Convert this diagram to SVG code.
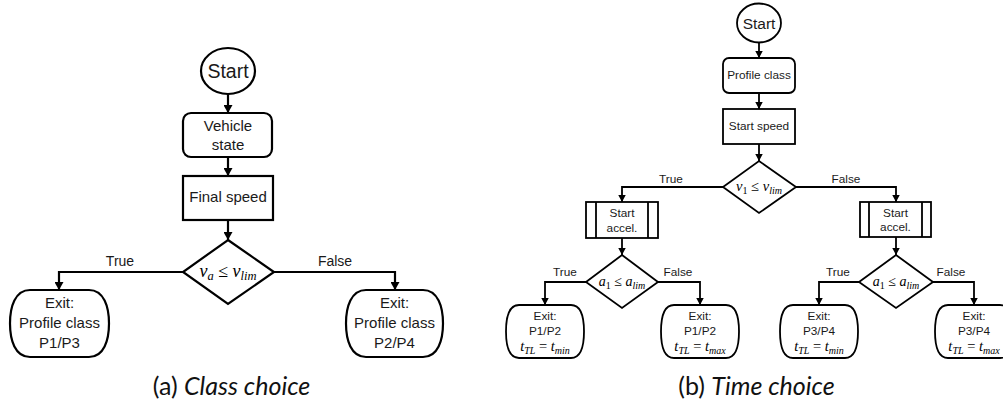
<svg xmlns="http://www.w3.org/2000/svg" width="1003" height="408" viewBox="0 0 1003 408">
<style>
.a{fill:#fff;stroke:#000;stroke-width:2.2}
.b{fill:#fff;stroke:#000;stroke-width:1.8}
.ca{fill:none;stroke:#000;stroke-width:2.2}
.cb{fill:none;stroke:#000;stroke-width:1.8}
.t{font-family:"Liberation Sans",Arial,sans-serif;fill:#1a1a1a;text-anchor:middle}
.ta{font-size:15px}
.tb{font-size:11.8px}
.m{font-family:"Liberation Serif","Times New Roman",serif;font-style:italic;fill:#000;text-anchor:middle}
.up{font-style:normal}
.cap{font-family:Lato,"DejaVu Sans",sans-serif;font-size:25px;fill:#111;text-anchor:middle}
</style>
<defs>
<marker id="ha" markerUnits="userSpaceOnUse" markerWidth="9" markerHeight="9" refX="8" refY="4.5" orient="auto"><path d="M0,0 L8,4.5 L0,9 z" fill="#000"/></marker>
<marker id="hb" markerUnits="userSpaceOnUse" markerWidth="8" markerHeight="8" refX="7" refY="3.75" orient="auto"><path d="M0,0 L7,3.75 L0,7.5 z" fill="#000"/></marker>
</defs>

<g id="connectors">
<path class="ca" d="M228,94 V113" marker-end="url(#ha)"/>
<path class="ca" d="M228,157 V176" marker-end="url(#ha)"/>
<path class="ca" d="M228,220 V240" marker-end="url(#ha)"/>
<path class="ca" d="M183,272 H59 V290" marker-end="url(#ha)"/>
<path class="ca" d="M274,272 H395 V290" marker-end="url(#ha)"/>
<path class="cb" d="M759,43 V58" marker-end="url(#hb)"/>
<path class="cb" d="M759,93 V109" marker-end="url(#hb)"/>
<path class="cb" d="M759,144 V161" marker-end="url(#hb)"/>
<path class="cb" d="M723,187 H622 V202" marker-end="url(#hb)"/>
<path class="cb" d="M796,187 H896 V202" marker-end="url(#hb)"/>
<path class="cb" d="M622,238 V255" marker-end="url(#hb)"/>
<path class="cb" d="M896,237 V255" marker-end="url(#hb)"/>
<path class="cb" d="M586,282 H545 V305" marker-end="url(#hb)"/>
<path class="cb" d="M658,282 H700 V305" marker-end="url(#hb)"/>
<path class="cb" d="M859,282 H819 V305" marker-end="url(#hb)"/>
<path class="cb" d="M933,282 H974 V305" marker-end="url(#hb)"/>
<text class="t" font-size="14" x="120" y="266">True</text>
<text class="t" font-size="14" x="335" y="266">False</text>
<text class="t tb" x="671" y="183">True</text>
<text class="t tb" x="846" y="183">False</text>
<text class="t tb" x="565" y="276">True</text>
<text class="t tb" x="678" y="276">False</text>
<text class="t tb" x="838" y="276">True</text>
<text class="t tb" x="951" y="276">False</text>
</g>

<g id="a-start"><ellipse class="a" cx="228" cy="71" rx="27" ry="23"/><text class="t" font-size="19.5" x="228" y="78">Start</text></g>
<g id="a-vehicle"><rect class="a" x="183" y="113" width="89" height="44" rx="8"/><text class="t ta" x="228" y="131">Vehicle</text><text class="t ta" x="228" y="150">state</text></g>
<g id="a-final"><rect class="a" x="183" y="176" width="90" height="44"/><text class="t ta" x="228" y="202">Final speed</text></g>
<g id="a-decision"><polygon class="a" points="228,240 274,272 228,304 183,272"/><text class="m" font-size="18" x="228" y="277">v<tspan font-size="12.5" dy="3">a</tspan><tspan dy="-3" class="up"> ≤ </tspan>v<tspan font-size="12.5" dy="3">lim</tspan></text></g>
<g id="a-exit1"><path class="a" d="M30,290 H89 C104,290 109,307 109,323.5 C109,340 104,357 89,357 H30 C15,357 10,340 10,323.5 C10,307 15,290 30,290 Z"/><text class="t ta" x="59.5" y="308">Exit:</text><text class="t ta" x="59.5" y="328">Profile class</text><text class="t ta" x="59.5" y="348">P1/P3</text></g>
<g id="a-exit2"><path class="a" d="M366,290 H423 C438,290 443,307 443,323.5 C443,340 438,357 423,357 H366 C351,357 346,340 346,323.5 C346,307 351,290 366,290 Z"/><text class="t ta" x="394.5" y="308">Exit:</text><text class="t ta" x="394.5" y="328">Profile class</text><text class="t ta" x="394.5" y="348">P2/P4</text></g>
<g id="a-caption"><text class="cap" x="231.5" y="395">(a) <tspan font-style="italic">Class choice</tspan></text></g>

<g id="b-start"><ellipse class="b" cx="759" cy="23" rx="22" ry="19.5"/><text class="t" font-size="15.5" x="759" y="29">Start</text></g>
<g id="b-profile"><rect class="b" x="723" y="58" width="72" height="35" rx="6"/><text class="t tb" x="759" y="79">Profile class</text></g>
<g id="b-startspeed"><rect class="b" x="723" y="109" width="72" height="35"/><text class="t tb" x="759" y="130">Start speed</text></g>
<g id="b-decision1"><polygon class="b" points="759,161 796,187 759,213 723,187"/><text class="m" font-size="14.5" x="759" y="191">v<tspan font-size="10" dy="2.5" class="up">1</tspan><tspan dy="-2.5" class="up"> ≤ </tspan>v<tspan font-size="10" dy="2.5">lim</tspan></text></g>
<g id="b-accel-left"><rect class="b" x="586" y="202" width="72" height="36"/><path class="cb" d="M596,202 V238 M648,202 V238"/><text class="t tb" x="622" y="217">Start</text><text class="t tb" x="622" y="232">accel.</text></g>
<g id="b-accel-right"><rect class="b" x="860" y="202" width="71" height="35"/><path class="cb" d="M869,202 V237 M922,202 V237"/><text class="t tb" x="895.5" y="217">Start</text><text class="t tb" x="895.5" y="231">accel.</text></g>
<g id="b-decision2"><polygon class="b" points="622,255 658,282 622,308 586,282"/><text class="m" font-size="14" x="622" y="286">a<tspan font-size="10" dy="2.5" class="up">1</tspan><tspan dy="-2.5" class="up"> ≤ </tspan>a<tspan font-size="10" dy="2.5">lim</tspan></text></g>
<g id="b-decision3"><polygon class="b" points="896,255 933,282 896,308 859,282"/><text class="m" font-size="14" x="896" y="286">a<tspan font-size="10" dy="2.5" class="up">1</tspan><tspan dy="-2.5" class="up"> ≤ </tspan>a<tspan font-size="10" dy="2.5">lim</tspan></text></g>
<g id="b-exit1"><path class="b" d="M519,305 H571 C581,305 584,318 584,331.5 C584,345 581,358 571,358 H519 C509,358 506,345 506,331.5 C506,318 509,305 519,305 Z"/><text class="t tb" x="545" y="320">Exit:</text><text class="t tb" x="545" y="335">P1/P2</text><text class="m" font-size="14.5" x="545" y="351">t<tspan font-size="10" dy="2.5">TL</tspan><tspan dy="-2.5" class="up"> = </tspan>t<tspan font-size="10" dy="2.5">min</tspan></text></g>
<g id="b-exit2"><path class="b" d="M674,305 H726 C736,305 739,318 739,331.5 C739,345 736,358 726,358 H674 C664,358 661,345 661,331.5 C661,318 664,305 674,305 Z"/><text class="t tb" x="700" y="320">Exit:</text><text class="t tb" x="700" y="335">P1/P2</text><text class="m" font-size="14.5" x="700" y="351">t<tspan font-size="10" dy="2.5">TL</tspan><tspan dy="-2.5" class="up"> = </tspan>t<tspan font-size="10" dy="2.5">max</tspan></text></g>
<g id="b-exit3"><path class="b" d="M793,305 H845 C855,305 858,318 858,331.5 C858,345 855,358 845,358 H793 C783,358 780,345 780,331.5 C780,318 783,305 793,305 Z"/><text class="t tb" x="819" y="320">Exit:</text><text class="t tb" x="819" y="335">P3/P4</text><text class="m" font-size="14.5" x="819" y="351">t<tspan font-size="10" dy="2.5">TL</tspan><tspan dy="-2.5" class="up"> = </tspan>t<tspan font-size="10" dy="2.5">min</tspan></text></g>
<g id="b-exit4"><path class="b" d="M948,305 H1000 C1010,305 1013,318 1013,331.5 C1013,345 1010,358 1000,358 H948 C938,358 935,345 935,331.5 C935,318 938,305 948,305 Z"/><text class="t tb" x="974" y="320">Exit:</text><text class="t tb" x="974" y="335">P3/P4</text><text class="m" font-size="14.5" x="974" y="351">t<tspan font-size="10" dy="2.5">TL</tspan><tspan dy="-2.5" class="up"> = </tspan>t<tspan font-size="10" dy="2.5">max</tspan></text></g>
<g id="b-caption"><text class="cap" x="756.5" y="395">(b) <tspan font-style="italic">Time choice</tspan></text></g>
</svg>
